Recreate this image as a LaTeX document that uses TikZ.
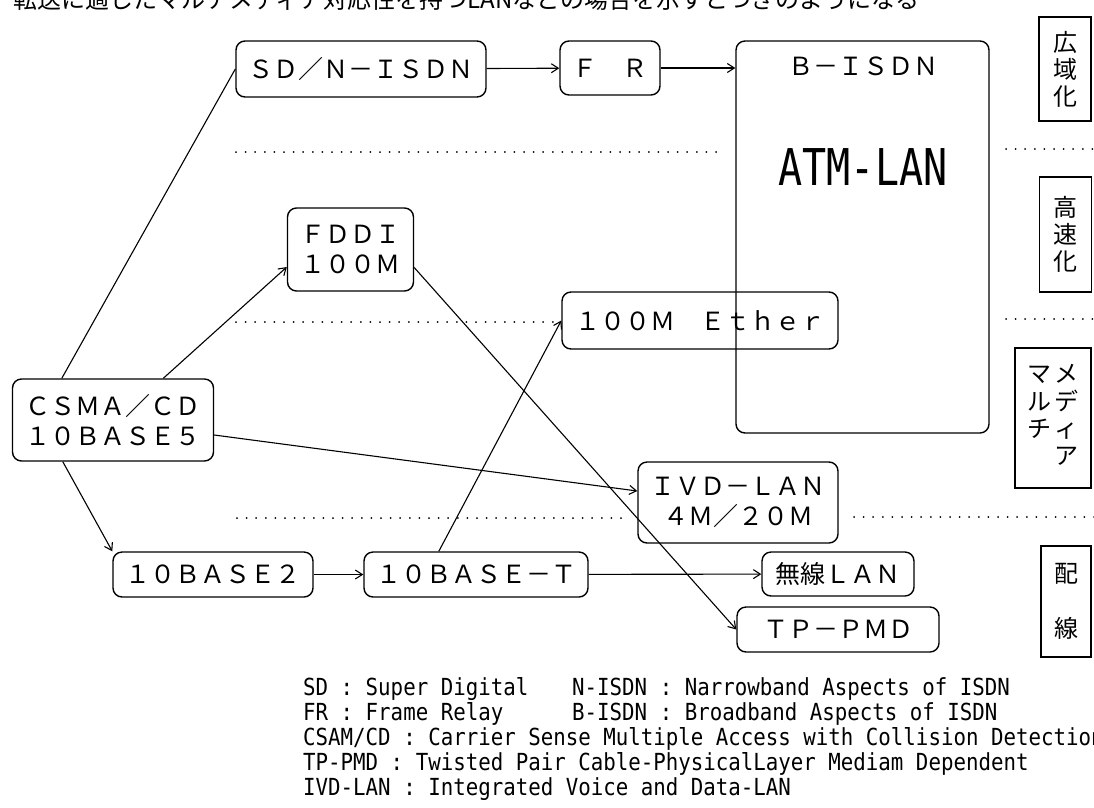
\documentclass[tikz,border=0pt]{standalone}
\usepackage{fontspec}
\setmainfont{DejaVu Sans}
\newfontfamily\jpfont{Noto Sans CJK JP}
\newfontfamily\legendfont[FakeStretch=0.884]{DejaVu Sans Mono}
\newfontfamily\atmfont[FakeStretch=0.79]{DejaVu Sans Mono}
\usetikzlibrary{arrows.meta}

\tikzset{
  lanbox/.style={draw, rounded corners=9pt, line width=1.4pt, inner sep=0pt, align=center,
    font=\jpfont\fontsize{25}{30}\selectfont},
  areabox/.style={draw, line width=1.3pt, inner sep=0pt, align=center,
    font=\jpfont\fontsize{24}{27}\selectfont},
  link/.style={line width=1.1pt, -{Straight Barb[length=7pt,width=9pt]}},
  bandline/.style={line width=2pt, line cap=round, dash pattern=on 0pt off 9.6pt},
  legendline/.style={anchor=base west, inner sep=0pt, font=\legendfont\fontsize{23.5}{25}\selectfont},
}

\begin{document}
\begin{tikzpicture}[x=1pt, y=-1pt]
  \useasboundingbox (0,0) rectangle (1094,807);
  \node[anchor=base west, inner sep=0pt, font=\jpfont\fontsize{24}{24}\selectfont] (heading) at (13,8) {転送に適したマルチメディア対応性を持つLANなどの場合を示すとつぎのようになる};

  \node[lanbox, minimum width=253pt, minimum height=392pt] (bisdn) at (862.5,237) {};
  \node[font=\jpfont\fontsize{25}{25}\selectfont] (bisdntext) at (863,66) {Ｂ－ＩＳＤＮ};
  \node[font=\atmfont\fontsize{50.7}{50.7}\selectfont] (atmlan) at (863,167) {ATM-LAN};

  \node[lanbox, minimum width=250pt, minimum height=56pt] (sdn) at (361,69) {ＳＤ／Ｎ－ＩＳＤＮ};
  \node[lanbox, minimum width=100pt, minimum height=54pt] (fr) at (610,68) {Ｆ　Ｒ};
  \node[lanbox, minimum width=126pt, minimum height=83pt] (fddi) at (350.5,249.5) {ＦＤＤＩ\\１００Ｍ};
  \node[lanbox, minimum width=276pt, minimum height=57pt] (ether) at (700,320.5) {１００Ｍ　Ｅｔｈｅｒ};
  \node[lanbox, minimum width=201pt, minimum height=82pt] (csma) at (113,420) {ＣＳＭＡ／ＣＤ\\１０ＢＡＳＥ５};
  \node[lanbox, minimum width=200pt, minimum height=81pt] (ivd) at (738,502.5) {ＩＶＤ－ＬＡＮ\\４Ｍ／２０Ｍ};
  \node[lanbox, minimum width=200pt, minimum height=45pt] (base2) at (213,574.5) {１０ＢＡＳＥ２};
  \node[lanbox, minimum width=224pt, minimum height=45pt] (baset) at (476,574.5) {１０ＢＡＳＥ－Ｔ};
  \node[lanbox, minimum width=152pt, minimum height=44pt] (musen) at (838,574) {無線ＬＡＮ};
  \node[lanbox, minimum width=202pt, minimum height=45pt] (tppmd) at (838,629.5) {ＴＰ－ＰＭＤ};

  \node[areabox, minimum width=52pt, minimum height=104pt] (wide) at (1065,69) {広\\域\\化};
  \node[areabox, minimum width=52pt, minimum height=115pt] (speed) at (1065.5,234.5) {高\\速\\化};
  \node[areabox, minimum width=76pt, minimum height=140pt] (media) at (1053,418) {\begin{tabular}{@{}c@{\hspace{3pt}}c@{}}マ&メ\\ル&デ\\チ&ィ\\&ア\end{tabular}};
  \node[areabox, minimum width=50pt, minimum height=111pt] (wiring) at (1066,601.5) {配\\[28pt]線};

  \draw[bandline] (236,152) -- (720,152);
  \draw[bandline] (1006,149) -- (1094,149);
  \draw[bandline] (236,322) -- (553,322);
  \draw[bandline] (1006,319) -- (1094,319);
  \draw[bandline] (237,518) -- (623,518);
  \draw[bandline] (854,517) -- (1094,517);

  \draw[link] (sdn) -- (fr);
  \draw[link] (fr.east) -- (fr.east -| bisdn.west);
  \draw[line width=1.1pt] ([xshift=50pt]csma.north west) -- (sdn.west);
  \draw[link] ([xshift=151.5pt]csma.north west) -- ([yshift=-17.5pt]fddi.west);
  \draw[link] ([xshift=51pt]csma.south west) -- (base2.north west);
  \draw[link] ([yshift=-15pt]csma.east) -- ([yshift=11.5pt]ivd.west);
  \draw[link] (base2) -- (baset);
  \draw[link] ([xshift=75.5pt]baset.north west) -- (ether.west);
  \draw[link] (baset) -- (musen);
  \draw[link] ([yshift=-18pt]fddi.east) -- (tppmd.west);

  \node[legendline] (legsd) at (303,695) {SD : Super Digital};
  \node[legendline] (legnisdn) at (572,695) {N-ISDN : Narrowband Aspects of ISDN};
  \node[legendline] (legfr) at (303,720) {FR : Frame Relay};
  \node[legendline] (legbisdn) at (572,720) {B-ISDN : Broadband Aspects of ISDN};
  \node[legendline] (legcsma) at (303,745) {CSAM/CD : Carrier Sense Multiple Access with Collision Detection};
  \node[legendline] (legtp) at (303,770) {TP-PMD : Twisted Pair Cable-PhysicalLayer Mediam Dependent};
  \node[legendline] (legivd) at (303,795) {IVD-LAN : Integrated Voice and Data-LAN};
\end{tikzpicture}
\end{document}
